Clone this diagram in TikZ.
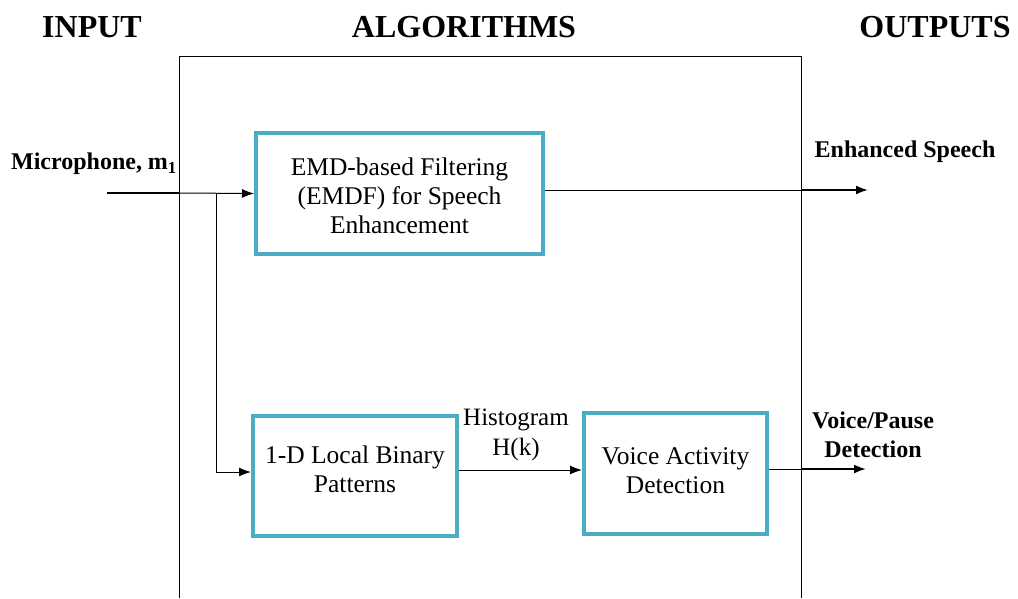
\documentclass[tikz,border=0pt]{standalone}
\usepackage{fontspec}
\setmainfont{Liberation Serif}
\usetikzlibrary{arrows.meta}
\definecolor{boxteal}{HTML}{4BACC6}
% centred multi-line text, shifted vertically by #1 without changing its size
\newcommand{\stackc}[2][0pt]{\raisebox{#1}[\height][\depth]{\begin{tabular}{@{}c@{}}#2\end{tabular}}}
\begin{document}
\begin{tikzpicture}[x=1pt,y=-1pt,
  block/.style={draw=boxteal,line width=4pt,fill=white,align=center,
    font=\fontsize{25.5}{29}\selectfont,inner sep=0pt},
  head/.style={font=\fontsize{32}{36}\selectfont\bfseries},
  tag/.style={font=\fontsize{24}{29}\selectfont\bfseries,align=center},
  note/.style={font=\fontsize{25}{30}\selectfont,align=center},
  wire/.style={line width=1pt},
  stub/.style={line width=2pt},
  arr/.style={-{Latex[length=12pt,width=9pt]}}]
\useasboundingbox (0,0) rectangle (1018,598);

% headings
\node[head] (hin)  at (92,27)  {INPUT};
\node[head] (halg) at (464,27) {ALGORITHMS};
\node[head] (hout) at (935,27) {OUTPUTS};

% algorithm frame (open at the bottom)
\coordinate (fbl) at (179,598);
\coordinate (ftl) at (179,56);
\coordinate (ftr) at (801,56);
\coordinate (fbr) at (801,598);
\draw[wire] (fbl) -- (ftl) -- (ftr) -- (fbr);

% processing blocks
\node[block,minimum width=287pt,minimum height=121pt] (emdf) at (399.5,193.5)
  {\stackc[-5pt]{EMD-based Filtering\\(EMDF) for Speech\\Enhancement}};
\node[block,minimum width=204pt,minimum height=120pt] (lbp) at (355,476)
  {\stackc[4pt]{1-D Local Binary\\Patterns}};
\node[block,minimum width=183pt,minimum height=121pt] (vad) at (675.5,473.5)
  {\stackc{Voice Activity\\Detection}};

% input side
\node[tag] (mic) at (94,164) {Microphone, m\textsubscript{1}};
\coordinate (src) at (107,193);
\coordinate (inb) at (179,193);
\coordinate (split) at (216,193);
\draw[stub] (src) -- (inb);
\draw[wire,arr] (inb) -- (emdf.west);
\draw[wire,arr] (split) |- ([yshift=4pt]lbp.west);

% between blocks
\draw[wire,arr] ([yshift=6pt]lbp.east) -- ([yshift=6pt]lbp.east -| vad.west);
\node[note] (hist) at (516,435) {Histogram\\H(k)};

% outputs
\coordinate (o1b) at (801,190);
\coordinate (o1) at (868,190);
\draw[wire] ([yshift=3.5pt]emdf.east) -- (o1b);
\draw[stub,arr] (o1b) -- (o1);
\node[tag] (enh) at (905,152) {Enhanced Speech};

\coordinate (o2b) at (801,469);
\coordinate (o2) at (866,469);
\draw[wire] ([yshift=4.5pt]vad.east) -- (o2b);
\draw[stub,arr] (o2b) -- (o2);
\node[tag] (vp) at (873,435) {Voice/Pause\\Detection};
\end{tikzpicture}
\end{document}
